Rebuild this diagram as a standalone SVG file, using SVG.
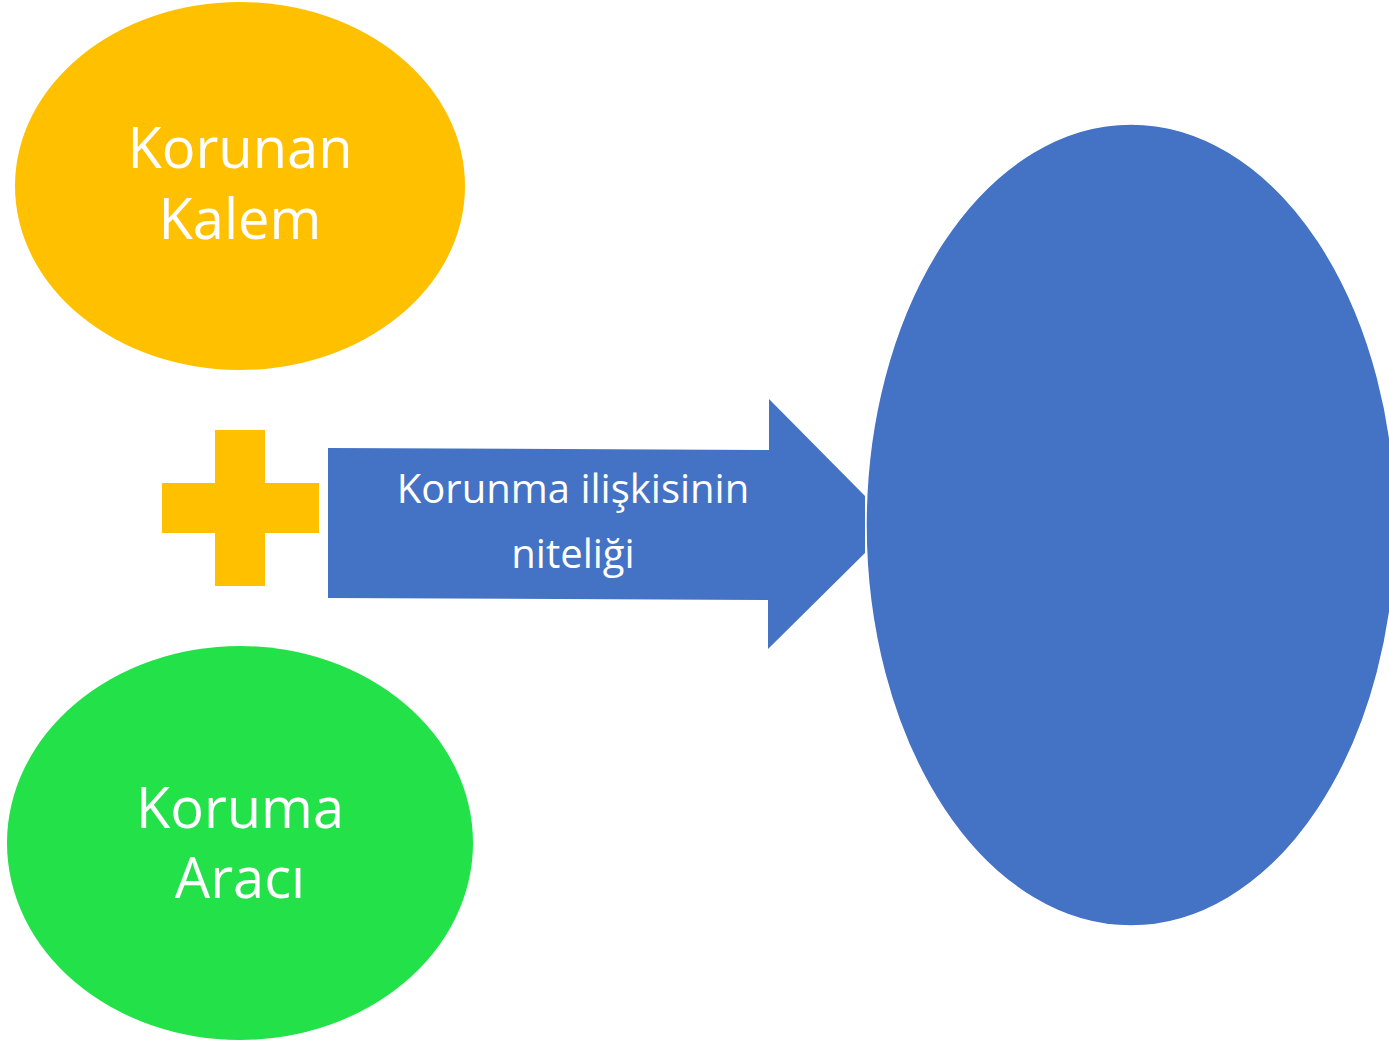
<svg xmlns="http://www.w3.org/2000/svg" width="1389" height="1043" viewBox="0 0 1389 1043">
<style>
.big{font-family:"Open Sans","Noto Sans",sans-serif;font-size:56px;fill:#fff;text-anchor:middle}
.mid{font-family:"Open Sans","Noto Sans",sans-serif;font-size:40px;fill:#fff;text-anchor:middle}
</style>
<rect width="1389" height="1043" fill="#fff"/>
<g id="korunan-kalem">
<ellipse cx="240" cy="186" rx="225" ry="184" fill="#FFC000"/>
<text class="big" x="240" y="168">Korunan</text>
<text class="big" x="240" y="239">Kalem</text>
</g>
<g id="plus">
<path d="M215 430H265V483H319V533H265V586H215V533H162V483H215Z" fill="#FFC000"/>
</g>
<g id="koruma-araci">
<ellipse cx="240" cy="843" rx="233" ry="197" fill="#22E149"/>
<text class="big" x="240" y="828">Koruma</text>
<text class="big" x="240" y="898">Aracı</text>
</g>
<g id="connectors">
<g id="arrow">
<path d="M328 448L769 450L769 399L865 496L865 553L768 649L768 600L328 598Z" fill="#4472C4"/>
<text class="mid" x="573" y="503">Korunma ilişkisinin</text>
<text class="mid" x="573" y="568">niteliği</text>
</g>
</g>
<g id="result">
<ellipse cx="1131" cy="525" rx="265" ry="401" fill="#4472C4" stroke="#fff" stroke-width="1.5"/>
</g>
</svg>
